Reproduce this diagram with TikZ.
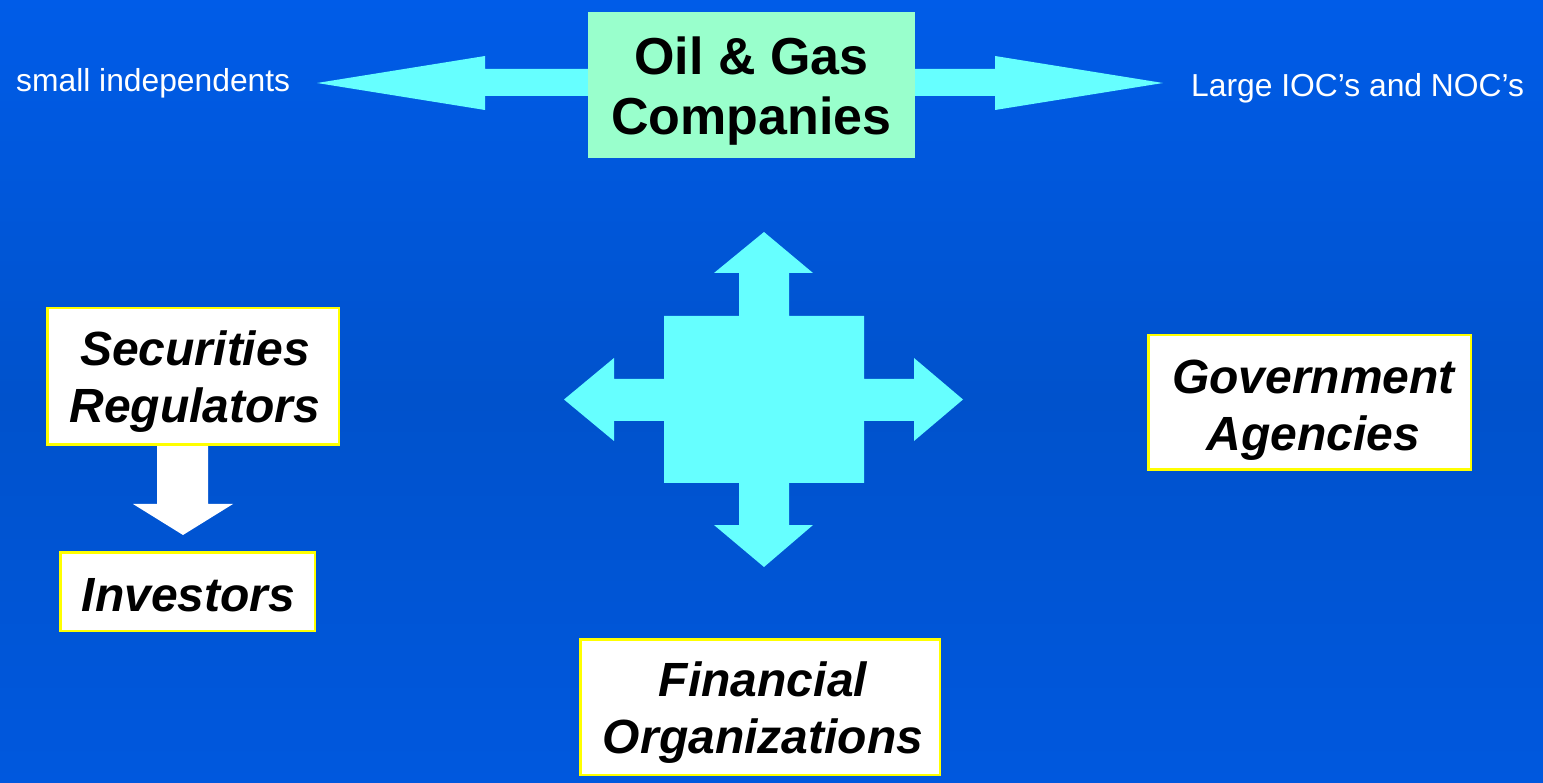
\documentclass[tikz,border=0pt]{standalone}
\usepackage{fontspec}
\setmainfont{Liberation Sans}
\definecolor{cyanA}{HTML}{66FFFF}
\definecolor{greenA}{HTML}{99FFCC}
\definecolor{yellowA}{HTML}{FFFF00}
\definecolor{bgTop}{RGB}{0,92,232}
\definecolor{bgMid}{RGB}{0,82,204}
\definecolor{bgBot}{RGB}{0,88,222}
\tikzset{
  boxA/.style={draw=yellowA, line width=2.5pt, fill=white, inner sep=0pt},
  boxtext/.style={inner sep=0pt, align=center, font=\fontsize{48}{57}\selectfont\bfseries\itshape},
  oilbox/.style={fill=greenA, inner sep=0pt},
  oiltext/.style={inner sep=0pt, align=center, font=\fontsize{52}{60}\selectfont\bfseries},
  sidelabel/.style={text=white, inner sep=0pt, font=\fontsize{31.8}{36}\selectfont},
  blockarrow/.style={fill=cyanA},
  whitearrow/.style={fill=white}
}
\begin{document}
\begin{tikzpicture}[x=1pt,y=-1pt]
\fill[top color=bgTop,bottom color=bgMid] (0,0) rectangle (1543,400);
\fill[top color=bgMid,bottom color=bgBot] (0,399.5) rectangle (1543,783);
\useasboundingbox (0,0) rectangle (1543,783);

% arrows from the oil & gas box
\fill[blockarrow] (588,69) -- (485,69) -- (485,56) -- (317,83) -- (485,110) -- (485,96) -- (588,96) -- cycle;
\fill[blockarrow] (915,69) -- (995,69) -- (995,56) -- (1163,83) -- (995,110) -- (995,96) -- (915,96) -- cycle;

% four-way arrow
\fill[blockarrow] (739,316) -- (739,273) -- (714,273) -- (764,232) -- (813,273) -- (789,273) -- (789,316)
  -- (864,316) -- (864,379) -- (914,379) -- (914,358) -- (963,399.5) -- (914,441) -- (914,421) -- (864,421)
  -- (864,483) -- (789,483) -- (789,525) -- (813,525) -- (764,567) -- (714,525) -- (739,525) -- (739,483)
  -- (664,483) -- (664,421) -- (614,421) -- (614,441) -- (564,399.5) -- (614,358) -- (614,379) -- (664,379)
  -- (664,316) -- cycle;

% white arrow regulators -> investors
\fill[whitearrow] (157,446) -- (157,504) -- (133,504) -- (183,535) -- (233,504) -- (208,504) -- (208,446) -- cycle;

\node[oilbox, minimum width=327, minimum height=146] (oil) at (751.5,85) {};
\node[oiltext] (oilt) at ([yshift=-6pt]oil.center) {Oil \& Gas\\Companies};

\node[sidelabel, anchor=base west] (small) at (16,92) {small independents};
\node[sidelabel, anchor=base west] (large) at (1191,97) {Large IOC’s and NOC’s};

\node[boxA, minimum width=291.5, minimum height=136.5] (sec) at (193,376.5) {};
\node[boxtext] (sect) at ([xshift=2pt,yshift=-5pt]sec.center) {Securities\\Regulators};
\node[boxA, minimum width=254.5, minimum height=78.5] (inv) at (187.5,591.5) {};
\node[boxtext] (invt) at ([xshift=1pt,yshift=-4pt]inv.center) {Investors};
\node[boxA, minimum width=322.5, minimum height=134.5] (gov) at (1309.5,402.5) {};
\node[boxtext] (govt) at ([xshift=4pt,yshift=-8pt]gov.center) {Government\\Agencies};
\node[boxA, minimum width=359.5, minimum height=135.5] (fin) at (760,707) {};
\node[boxtext] (fint) at ([xshift=3pt,yshift=-6pt]fin.center) {Financial\\Organizations};
\end{tikzpicture}
\end{document}
